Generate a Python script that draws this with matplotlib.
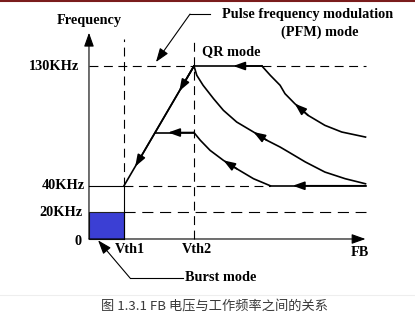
import matplotlib
matplotlib.use("Agg")
import matplotlib.pyplot as plt
from matplotlib.lines import Line2D

# frequency levels (kHz) and FB thresholds (arbitrary units)
f_max, f_mid, f_min, f_burst = 130, 80, 40, 20
vth1, vth2 = 0.5, 1.5
fb_end = 3.95
qr_start = 2.47    # where the upper curve leaves the 130 kHz line
low_start = 2.59   # where the lower curve meets the 40 kHz line

y_tick_values = [130, 40, 20, 0]
y_tick_labels = ["130KHz", "40KHz", "20KHz", "0"]
x_tick_values = [vth1, vth2, fb_end]
x_tick_labels = ["Vth1", "Vth2", "FB"]

# load-line curves (FB, kHz)
curve1_x = [2.47, 2.59, 2.73, 2.8, 2.94, 3.13, 3.37, 3.61, 3.95]
curve1_y = [130, 123, 115.5, 109.2, 101.7, 92.9, 85.4, 80.4, 76.6]
curve2_x = [1.5, 1.54, 1.63, 1.78, 1.92, 2.11, 2.35, 2.54, 2.73, 2.85, 3.09,
            3.37, 3.66, 3.95]
curve2_y = [130, 123, 115.5, 105.4, 96.7, 87.9, 80.4, 74.2, 69.1, 65.4, 57.9,
            50.3, 45.3, 41.5]
curve3_x = [1.5, 1.59, 1.73, 1.92, 2.11, 2.35, 2.59]
curve3_y = [80, 74.2, 66.6, 59.1, 52.8, 45.3, 40]

caption = "图 1.3.1 FB 电压与工作频率之间的关系"

plt.rcParams["font.family"] = ["Liberation Serif", "DejaVu Serif"]

fig = plt.figure(figsize=(4.15, 3.36), dpi=100)
ax = fig.add_axes([0, 0, 1, 1])
ax.set_xlim(-1.271, 4.657)
ax.set_ylim(-72.9, 179.6)
ax.axis("off")

lw = 1.2
thin = 0.8
dash = dict(color="black", lw=thin, dashes=(8, 5))
head = "-|>,head_length=0.7,head_width=0.25"


def arrow(tip, tail, ms=10):
    ax.annotate("", xy=tip, xytext=tail,
                arrowprops=dict(arrowstyle=head, color="black", lw=lw,
                                shrinkA=0, shrinkB=0, mutation_scale=ms))


# axes with arrows
ax.annotate("", xy=(fb_end, 0), xytext=(0, 0),
            arrowprops=dict(arrowstyle=head, color="black", lw=thin,
                            shrinkA=0, shrinkB=0, mutation_scale=12))
ax.annotate("", xy=(0, 155), xytext=(0, 0),
            arrowprops=dict(arrowstyle=head, color="black", lw=thin,
                            shrinkA=0, shrinkB=0, mutation_scale=12))

# burst region
ax.bar(0, f_burst, width=vth1, align="edge", color="#3b3fd4",
       edgecolor="#222222", lw=thin)

# guide lines
ax.plot([vth1, vth1], [f_min, 150], **dash)
ax.plot([vth1, vth1], [0, f_min], color="black", lw=thin)
ax.plot([vth2, vth2], [0, 150], **dash)
ax.plot([0, vth2], [f_max, f_max], **dash)
ax.plot([qr_start, fb_end], [f_max, f_max], **dash)
ax.plot([0, vth1], [f_min, f_min], color="black", lw=thin)
ax.plot([vth1, low_start], [f_min, f_min], **dash)
ax.plot([vth1, fb_end], [f_burst, f_burst], color="black", lw=thin, dashes=(10, 6))

# operating path
ax.plot([vth2, qr_start], [f_max, f_max], color="black", lw=lw)
ax.plot([low_start, fb_end], [f_min, f_min], color="black", lw=lw)
ax.plot([vth1, vth2], [f_min, f_max], color="black", lw=lw)
x_mid = vth1 + (f_mid - f_min) / (f_max - f_min) * (vth2 - vth1)
ax.plot([x_mid, vth2], [f_mid, f_mid], color="black", lw=lw)
for cx, cy in [(curve1_x, curve1_y), (curve2_x, curve2_y), (curve3_x, curve3_y)]:
    ax.plot(cx, cy, color="black", lw=lw, solid_joinstyle="round")

# direction arrows
arrow((2.06, f_max), (qr_start, f_max))
arrow((2.91, f_min), (fb_end, f_min))
arrow((1.13, f_mid), (vth2, f_mid))
for xt in [1.29, 0.66]:
    yt = f_min + (xt - vth1) / (vth2 - vth1) * (f_max - f_min)
    arrow((xt, yt), (vth2, f_max))
arrow((curve1_x[4], curve1_y[4]), (curve1_x[5], curve1_y[5]))
arrow((curve2_x[6], curve2_y[6]), (curve2_x[7], curve2_y[7]))
arrow((curve3_x[3], curve3_y[3]), (curve3_x[4], curve3_y[4]))

# labels
tfont = dict(fontsize=10.3, fontweight="bold", color="black")
for val, lab, xr in zip(y_tick_values, y_tick_labels, [-0.14, -0.06, -0.09, -0.11]):
    ax.text(xr, val - (2 if val == 0 else 0), lab, ha="right", va="center", **tfont)
for val, lab, dx in zip(x_tick_values, x_tick_labels, [0.08, 0.04, -0.08]):
    ax.text(val + dx, -8 if lab != "FB" else -10.5, lab, ha="center", va="center", **tfont)
ax.text(0, 164, "Frequency", ha="center", va="center", **tfont)
ax.text(1.61, 140.5, "QR mode", ha="left", va="center", **tfont)
ax.text(1.9, 169, "Pulse frequency modulation", ha="left", va="center", **tfont)
ax.text(3.29, 155.5, "(PFM) mode", ha="center", va="center", **tfont)
ax.text(1.37, -29.3, "Burst mode", ha="left", va="center", **tfont)

# callout pointers
ax.plot([1.73, 1.443], [169, 169], color="black", lw=thin)
ax.annotate("", xy=(0.957, 133), xytext=(1.443, 169),
            arrowprops=dict(arrowstyle=head, color="black", lw=thin,
                            shrinkA=0, shrinkB=0, mutation_scale=12))
ax.plot([1.34, 0.586], [-29.3, -29.3], color="black", lw=thin)
ax.annotate("", xy=(0.13, -1), xytext=(0.586, -29.3),
            arrowprops=dict(arrowstyle=head, color="black", lw=thin,
                            shrinkA=0, shrinkB=0, mutation_scale=12))

# page decorations and caption
fig.add_artist(Line2D([0, 1], [0.998, 0.998], transform=fig.transFigure,
                      color="#7a1c1c", lw=1.5))
fig.add_artist(Line2D([0, 1], [1 - 295 / 336] * 2, transform=fig.transFigure,
                      color="#eeeeee", lw=0.8))
fig.text(0.518, 1 - 307 / 336, caption, ha="center", va="center",
         color="#3a3a3a", fontsize=9.5,
         family=["Noto Sans CJK SC", "DejaVu Sans"])

fig.savefig("out.png", dpi=100)
